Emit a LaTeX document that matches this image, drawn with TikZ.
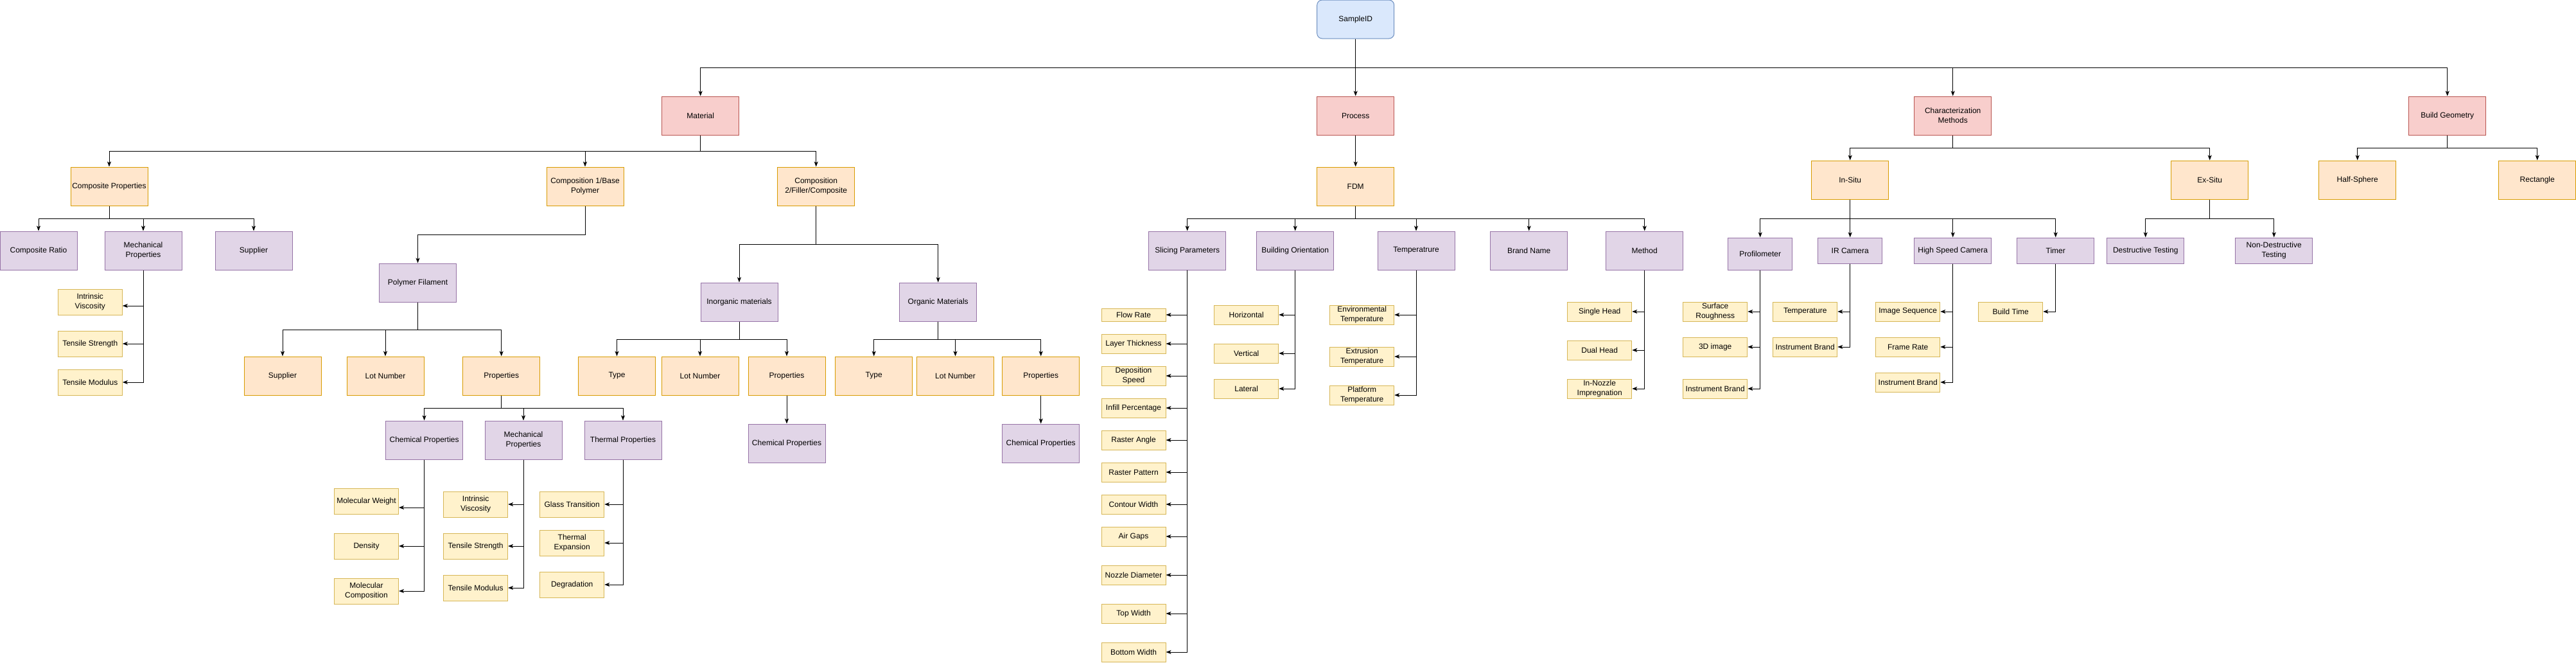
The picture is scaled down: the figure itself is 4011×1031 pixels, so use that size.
\documentclass[tikz,border=0pt]{standalone}
\usepackage{fontspec}
\setmainfont{Liberation Sans}
\usetikzlibrary{arrows.meta}
\definecolor{redFill}{HTML}{F8CECC}
\definecolor{redLine}{HTML}{B85450}
\definecolor{orangeFill}{HTML}{FFE6CC}
\definecolor{orangeLine}{HTML}{D79B00}
\definecolor{purpleFill}{HTML}{E1D5E7}
\definecolor{purpleLine}{HTML}{9673A6}
\definecolor{yellowFill}{HTML}{FFF2CC}
\definecolor{yellowLine}{HTML}{D6B656}
\definecolor{blueFill}{HTML}{DAE8FC}
\definecolor{blueLine}{HTML}{6C8EBF}
\tikzset{
    baseBox/.style={rectangle, draw, line width=1pt, inner sep=1pt, align=center, minimum width=120pt, minimum height=60pt, font=\fontsize{12}{15}\selectfont},
    rootBox/.style={baseBox, rounded corners=8pt, fill=blueFill, draw=blueLine},
    topBox/.style={baseBox, fill=redFill, draw=redLine},
    groupBox/.style={baseBox, fill=orangeFill, draw=orangeLine},
    itemBox/.style={baseBox, fill=purpleFill, draw=purpleLine},
    leafBox/.style={baseBox, fill=yellowFill, draw=yellowLine, minimum width=100pt, minimum height=30pt},
    treeEdge/.style={-{Stealth[length=8pt, width=6pt, inset=2pt]}, line width=1pt},
}
% parent, child, drop to the bus
\newcommand{\drawBranch}[3]{
    \draw[treeEdge] (#1.south) -- ++(0,#3) -| (#2.north);
}
% parent, leaf (optional shift of the arrow end)
\newcommand{\drawLeaf}[3][0pt]{
    \draw[treeEdge] (#2.south) |- ([yshift=#1]#3.east);
}
\begin{document}
\begin{tikzpicture}[x=1pt, y=-1pt]
        \useasboundingbox (0,0) rectangle (4011,1031);

        % root and main branches
        \node[rootBox] (sid) at (2110.7, 30) {SampleID};
        \node[topBox] (mat) at (1090.7, 180) {Material};
        \node[topBox] (proc) at (2110.7, 180) {Process};
        \node[topBox] (char) at (3040.7, 180) {Characterization\\Methods};
        \node[topBox] (geom) at (3810.7, 180) {Build Geometry};
        \drawBranch{sid}{mat}{45}
        \drawBranch{sid}{proc}{45}
        \drawBranch{sid}{char}{45}
        \drawBranch{sid}{geom}{45}

        % material
        \node[groupBox] (cprop) at (170, 290) {Composite Properties};
        \node[groupBox] (comp1) at (911, 290) {Composition 1/Base\\Polymer};
        \node[groupBox] (comp2) at (1270.7, 290) {Composition\\2/Filler/Composite};
        \drawBranch{mat}{cprop}{25}
        \drawBranch{mat}{comp1}{25}
        \drawBranch{mat}{comp2}{25}

        \node[itemBox] (cratio) at (60, 390) {Composite Ratio};
        \node[itemBox] (cmech) at (223, 390) {Mechanical\\Properties};
        \node[itemBox] (csup) at (395, 390) {Supplier};
        \drawBranch{cprop}{cratio}{20}
        \drawBranch{cprop}{cmech}{20}
        \drawBranch{cprop}{csup}{20}

        \node[leafBox, minimum height=40pt] (civ) at (140.3, 470) {Intrinsic\\Viscosity};
        \node[leafBox, minimum height=40pt] (cts) at (140.3, 535) {Tensile Strength};
        \node[leafBox, minimum height=40pt] (ctm) at (140.3, 595) {Tensile Modulus};
        \drawLeaf[-6pt]{cmech}{civ}
        \drawLeaf{cmech}{cts}
        \drawLeaf{cmech}{ctm}

        % base polymer
        \node[itemBox] (pfil) at (650.5, 440) {Polymer Filament};
        \drawBranch{comp1}{pfil}{45}
        \node[groupBox] (psup) at (440, 585) {Supplier};
        \node[groupBox] (plot) at (600, 585) {Lot Number};
        \node[groupBox] (pprop) at (780.7, 585) {Properties};
        \drawBranch{pfil}{psup}{43}
        \drawBranch{pfil}{plot}{43}
        \drawBranch{pfil}{pprop}{43}

        \node[itemBox] (pchem) at (660.6, 685) {Chemical Properties};
        \node[itemBox] (pmech) at (815, 685) {Mechanical\\Properties};
        \node[itemBox] (ptherm) at (970, 685) {Thermal Properties};
        \drawBranch{pprop}{pchem}{20}
        \drawBranch{pprop}{pmech}{20}
        \drawBranch{pprop}{ptherm}{20}

        \node[leafBox, minimum height=40pt] (pmw) at (570.5, 780) {Molecular Weight};
        \node[leafBox, minimum height=40pt] (pden) at (570.5, 850) {Density};
        \node[leafBox, minimum height=40pt] (pmc) at (570.5, 920) {Molecular\\Composition};
        \drawLeaf[-10pt]{pchem}{pmw}
        \drawLeaf{pchem}{pden}
        \drawLeaf{pchem}{pmc}
        \node[leafBox, minimum height=40pt] (piv) at (740.6, 785) {Intrinsic\\Viscosity};
        \node[leafBox, minimum height=40pt] (pts) at (740.6, 850) {Tensile Strength};
        \node[leafBox, minimum height=40pt] (ptm) at (740.6, 915) {Tensile Modulus};
        \drawLeaf{pmech}{piv}
        \drawLeaf{pmech}{pts}
        \drawLeaf{pmech}{ptm}
        \node[leafBox, minimum height=40pt] (pgt) at (890.7, 785) {Glass Transition};
        \node[leafBox, minimum height=40pt] (pte) at (890.7, 845) {Thermal\\Expansion};
        \node[leafBox, minimum height=40pt] (pdeg) at (890.7, 910) {Degradation};
        \drawLeaf{ptherm}{pgt}
        \drawLeaf{ptherm}{pte}
        \drawLeaf{ptherm}{pdeg}

        % filler / composite
        \node[itemBox] (inorg) at (1151, 470) {Inorganic materials};
        \node[itemBox] (org) at (1460.7, 470) {Organic Materials};
        \drawBranch{comp2}{inorg}{60}
        \drawBranch{comp2}{org}{60}

        \node[groupBox] (itype) at (960.5, 585) {Type};
        \node[groupBox] (ilot) at (1090, 585) {Lot Number};
        \node[groupBox] (iprop) at (1225, 585) {Properties};
        \drawBranch{inorg}{itype}{28}
        \drawBranch{inorg}{ilot}{28}
        \drawBranch{inorg}{iprop}{28}
        \node[itemBox] (ichem) at (1225, 690) {Chemical Properties};
        \draw[treeEdge] (iprop) -- (ichem);

        \node[groupBox] (otype) at (1360.7, 585) {Type};
        \node[groupBox] (olot) at (1487.5, 585) {Lot Number};
        \node[groupBox] (oprop) at (1620.7, 585) {Properties};
        \drawBranch{org}{otype}{28}
        \drawBranch{org}{olot}{28}
        \drawBranch{org}{oprop}{28}
        \node[itemBox] (ochem) at (1620.7, 690) {Chemical Properties};
        \draw[treeEdge] (oprop) -- (ochem);

        % process
        \node[groupBox] (fdm) at (2110.7, 290) {FDM};
        \draw[treeEdge] (proc) -- (fdm);
        \node[itemBox] (slice) at (1848.7, 390) {Slicing Parameters};
        \node[itemBox] (orient) at (2016.7, 390) {Building Orientation};
        \node[itemBox] (temp) at (2205, 390) {Temperatrure};
        \node[itemBox] (brand) at (2380.7, 390) {Brand Name};
        \node[itemBox] (meth) at (2560.7, 390) {Method};
        \drawBranch{fdm}{slice}{20}
        \drawBranch{fdm}{orient}{20}
        \drawBranch{fdm}{temp}{20}
        \drawBranch{fdm}{brand}{20}
        \drawBranch{fdm}{meth}{20}

        \node[leafBox, minimum height=20pt] (flow) at (1765, 490) {Flow Rate};
        \node[leafBox] (layer) at (1765, 535) {Layer Thickness};
        \node[leafBox] (dep) at (1765, 585) {Deposition\\Speed};
        \node[leafBox] (infill) at (1765, 635) {Infill Percentage};
        \node[leafBox] (rangle) at (1765, 685) {Raster Angle};
        \node[leafBox] (rpat) at (1765, 735) {Raster Pattern};
        \node[leafBox] (cont) at (1765, 785) {Contour Width};
        \node[leafBox] (air) at (1765, 835) {Air Gaps};
        \node[leafBox] (nozz) at (1765, 895) {Nozzle Diameter};
        \node[leafBox] (topw) at (1765, 955) {Top Width};
        \node[leafBox] (botw) at (1765, 1015) {Bottom Width};
        \drawLeaf{slice}{flow}
        \drawLeaf{slice}{layer}
        \drawLeaf{slice}{dep}
        \drawLeaf{slice}{infill}
        \drawLeaf{slice}{rangle}
        \drawLeaf{slice}{rpat}
        \drawLeaf{slice}{cont}
        \drawLeaf{slice}{air}
        \drawLeaf{slice}{nozz}
        \drawLeaf{slice}{topw}
        \drawLeaf{slice}{botw}

        \node[leafBox] (horiz) at (1940.7, 490) {Horizontal};
        \node[leafBox] (vert) at (1940.7, 550) {Vertical};
        \node[leafBox] (lat) at (1940.7, 605) {Lateral};
        \drawLeaf{orient}{horiz}
        \drawLeaf{orient}{vert}
        \drawLeaf{orient}{lat}

        \node[leafBox] (envt) at (2120.7, 490) {Environmental\\Temperature};
        \node[leafBox] (extt) at (2120.7, 555) {Extrusion\\Temperature};
        \node[leafBox] (platt) at (2120.7, 615) {Platform\\Temperature};
        \drawLeaf{temp}{envt}
        \drawLeaf{temp}{extt}
        \drawLeaf{temp}{platt}

        \node[leafBox] (single) at (2490.7, 485) {Single Head};
        \node[leafBox] (dual) at (2490.7, 545) {Dual Head};
        \node[leafBox] (nozimp) at (2490.7, 605) {In-Nozzle\\Impregnation};
        \drawLeaf{meth}{single}
        \drawLeaf{meth}{dual}
        \drawLeaf{meth}{nozimp}

        % characterization
        \node[groupBox] (insitu) at (2880.7, 280) {In-Situ};
        \node[groupBox] (exsitu) at (3440.7, 280) {Ex-Situ};
        \drawBranch{char}{insitu}{20}
        \drawBranch{char}{exsitu}{20}

        \node[itemBox, minimum width=100pt, minimum height=50pt] (prof) at (2740.7, 395) {Profilometer};
        \node[itemBox, minimum width=100pt, minimum height=40pt] (ircam) at (2880.7, 390) {IR Camera};
        \node[itemBox, minimum height=40pt] (hsc) at (3040.7, 390) {High Speed Camera};
        \node[itemBox, minimum height=40pt] (timer) at (3200.7, 390) {Timer};
        \drawBranch{insitu}{prof}{30}
        \drawBranch{insitu}{ircam}{30}
        \drawBranch{insitu}{hsc}{30}
        \drawBranch{insitu}{timer}{30}

        \node[leafBox] (rough) at (2670.7, 485) {Surface\\Roughness};
        \node[leafBox] (img3d) at (2670.7, 540) {3D image};
        \node[leafBox] (pbrand) at (2670.7, 605) {Instrument Brand};
        \drawLeaf{prof}{rough}
        \drawLeaf{prof}{img3d}
        \drawLeaf{prof}{pbrand}

        \node[leafBox] (irtemp) at (2810.7, 485) {Temperature};
        \node[leafBox] (irbrand) at (2810.7, 540) {Instrument Brand};
        \drawLeaf{ircam}{irtemp}
        \drawLeaf{ircam}{irbrand}

        \node[leafBox] (seq) at (2970.7, 485) {Image Sequence};
        \node[leafBox] (frate) at (2970.7, 540) {Frame Rate};
        \node[leafBox] (hbrand) at (2970.7, 595) {Instrument Brand};
        \drawLeaf{hsc}{seq}
        \drawLeaf{hsc}{frate}
        \drawLeaf{hsc}{hbrand}

        \node[leafBox] (btime) at (3130.7, 485) {Build Time};
        \drawLeaf{timer}{btime}

        \node[itemBox, minimum height=40pt] (dest) at (3340.7, 390) {Destructive Testing};
        \node[itemBox, minimum height=40pt] (ndest) at (3540.7, 390) {Non-Destructive\\Testing};
        \drawBranch{exsitu}{dest}{30}
        \drawBranch{exsitu}{ndest}{30}

        % build geometry
        \node[groupBox] (half) at (3670.7, 280) {Half-Sphere};
        \node[groupBox] (rect) at (3950.7, 280) {Rectangle};
        \drawBranch{geom}{half}{20}
        \drawBranch{geom}{rect}{20}

    \end{tikzpicture}
\end{document}
